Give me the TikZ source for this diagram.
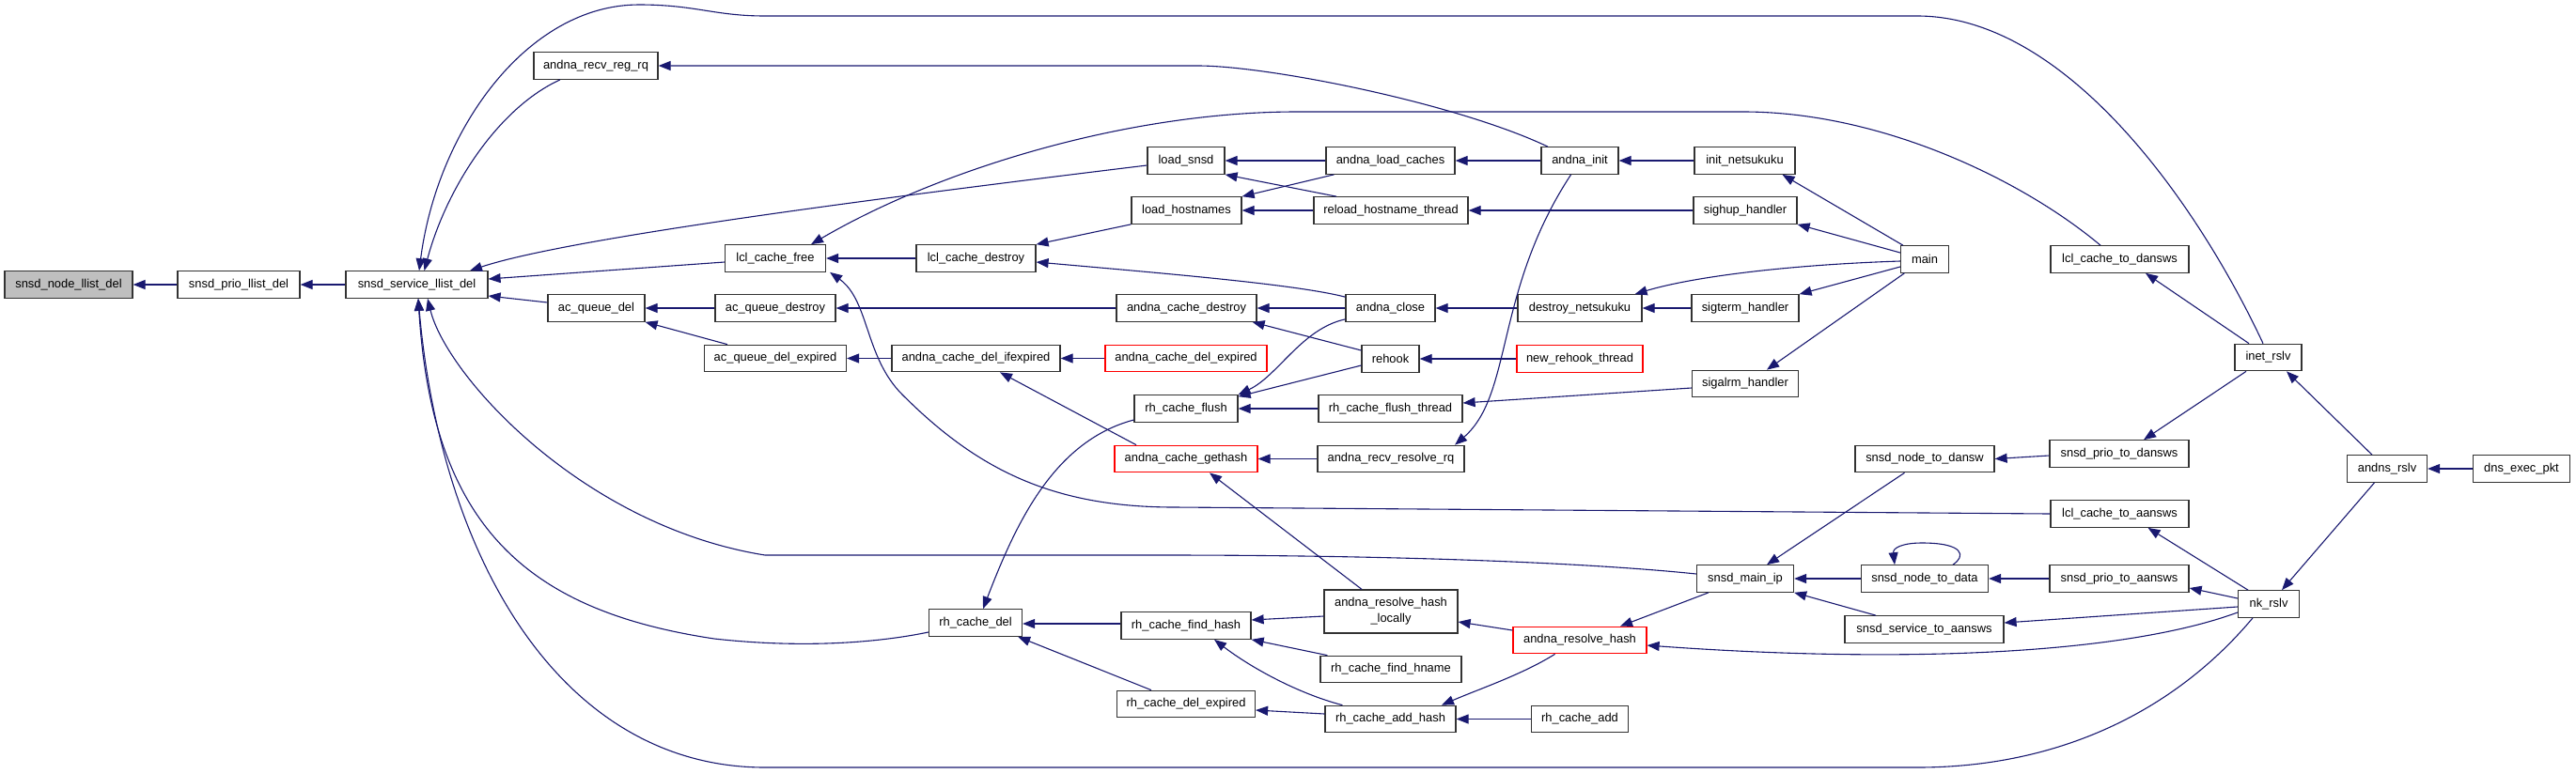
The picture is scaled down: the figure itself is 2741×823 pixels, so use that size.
\documentclass[tikz,border=0pt]{standalone}
\usepackage{fontspec}
\setmainfont{Liberation Sans}
\usetikzlibrary{arrows.meta}
\definecolor{edgeblue}{HTML}{191970}
\definecolor{rootgray}{HTML}{BFBFBF}
\begin{document}
\begin{tikzpicture}[x=1pt,y=-1pt,
  fnbox/.style={draw=black!80, line width=1.2pt, fill=white, rectangle, minimum height=28.5pt, inner sep=0pt, font=\fontsize{12.9}{17}\selectfont},
  redbox/.style={fnbox, draw=red},
  rootbox/.style={fnbox, fill=rootgray},
  link/.style={draw=edgeblue, line width=1.1pt, {Triangle[length=13pt,width=10pt]}-}]
\useasboundingbox (0,0) rectangle (2741,823);
% nodes
\node[rootbox, minimum width=136pt] (n1) at (73,303) {snsd\_node\_llist\_del};
\node[fnbox, minimum width=130pt] (n2) at (254,303) {snsd\_prio\_llist\_del};
\node[fnbox, minimum width=151pt] (n3) at (443.5,303) {snsd\_service\_llist\_del};
\node[fnbox, minimum width=132pt] (recvreg) at (634,70) {andna\_recv\_reg\_rq};
\node[fnbox, minimum width=103pt] (acqdel) at (634.5,328) {ac\_queue\_del};
\node[fnbox, minimum width=82pt] (loadsnsd) at (1262,171) {load\_snsd};
\node[fnbox, minimum width=117pt] (loadhost) at (1262.5,224) {load\_hostnames};
\node[fnbox, minimum width=107pt] (lclfree) at (825,275) {lcl\_cache\_free};
\node[fnbox, minimum width=127pt] (lcldestroy) at (1038.5,275) {lcl\_cache\_destroy};
\node[fnbox, minimum width=128pt] (acqdestroy) at (825,328) {ac\_queue\_destroy};
\node[fnbox, minimum width=149pt] (acdestroy) at (1262.5,328) {andna\_cache\_destroy};
\node[fnbox, minimum width=151pt] (acqdelexp) at (825,381.5) {ac\_queue\_del\_expired};
\node[fnbox, minimum width=179pt] (ifexp) at (1038.5,381.5) {andna\_cache\_del\_ifexpired};
\node[redbox, minimum width=172pt] (delexp) at (1262,381.5) {andna\_cache\_del\_expired};
\node[fnbox, minimum width=110pt] (rhflush) at (1262,435) {rh\_cache\_flush};
\node[redbox, minimum width=152pt] (gethash) at (1262,488.5) {andna\_cache\_gethash};
\node[fnbox, minimum width=99pt] (rhdel) at (1038,663) {rh\_cache\_del};
\node[fnbox, minimum width=138pt] (findhash) at (1262,666) {rh\_cache\_find\_hash};
\node[fnbox, minimum width=147pt] (rhdelexp) at (1262,749.5) {rh\_cache\_del\_expired};
\node[fnbox, minimum width=137pt] (loadcaches) at (1479.5,171) {andna\_load\_caches};
\node[fnbox, minimum width=82pt] (andnainit) at (1681,171) {andna\_init};
\node[fnbox, minimum width=107pt] (initnk) at (1856.5,171) {init\_netsukuku};
\node[fnbox, minimum width=164pt] (reloadhost) at (1480,224) {reload\_hostname\_thread};
\node[fnbox, minimum width=110pt] (sighup) at (1857,224) {sighup\_handler};
\node[fnbox, minimum width=51pt] (main) at (2048,276) {main};
\node[fnbox, minimum width=95pt] (andnaclose) at (1479.5,328) {andna\_close};
\node[fnbox, minimum width=132pt] (destroynk) at (1681,328) {destroy\_netsukuku};
\node[fnbox, minimum width=114pt] (sigterm) at (1857,328) {sigterm\_handler};
\node[fnbox, minimum width=61pt] (rehook) at (1479.5,382) {rehook};
\node[redbox, minimum width=134pt] (newrehook) at (1681,382) {new\_rehook\_thread};
\node[fnbox, minimum width=113pt] (sigalrm) at (1857,408.5) {sigalrm\_handler};
\node[fnbox, minimum width=153pt] (flushthread) at (1479.5,435) {rh\_cache\_flush\_thread};
\node[fnbox, minimum width=156pt] (recvresolve) at (1480,488.5) {andna\_recv\_resolve\_rq};
\node[fnbox, minimum width=148pt] (nodetodansw) at (2048,488.5) {snsd\_node\_to\_dansw};
\node[fnbox, minimum width=103pt] (mainip) at (1857,616) {snsd\_main\_ip};
\node[fnbox, minimum width=135pt] (nodetodata) at (2048,616) {snsd\_node\_to\_data};
\node[fnbox, minimum width=169pt] (servicetoaansws) at (2047.5,670) {snsd\_service\_to\_aansws};
\node[fnbox, minimum width=142pt, minimum height=46pt, align=center] (locally) at (1480,651) {andna\_resolve\_hash\\\_locally};
\node[redbox, minimum width=142pt] (resolvehash) at (1681,681.5) {andna\_resolve\_hash};
\node[fnbox, minimum width=150pt] (findhname) at (1480,712.5) {rh\_cache\_find\_hname};
\node[fnbox, minimum width=139pt] (addhash) at (1479.5,765.5) {rh\_cache\_add\_hash};
\node[fnbox, minimum width=103pt] (rhadd) at (1681,765.5) {rh\_cache\_add};
\node[fnbox, minimum width=147pt] (lcltodansws) at (2255.5,276) {lcl\_cache\_to\_dansws};
\node[fnbox, minimum width=71pt] (inetrslv) at (2413.5,380.5) {inet\_rslv};
\node[fnbox, minimum width=148pt] (priotodansws) at (2255,483) {snsd\_prio\_to\_dansws};
\node[fnbox, minimum width=85pt] (andnsrslv) at (2540,499) {andns\_rslv};
\node[fnbox, minimum width=103pt] (dnsexec) at (2683,499) {dns\_exec\_pkt};
\node[fnbox, minimum width=147pt] (lcltoaansws) at (2255.5,547) {lcl\_cache\_to\_aansws};
\node[fnbox, minimum width=148pt] (priotoaansws) at (2255,616) {snsd\_prio\_to\_aansws};
\node[fnbox, minimum width=65pt] (nkrslv) at (2414,643) {nk\_rslv};
% edges
\draw[link] (n1.east) -- (n2.west);
\draw[link] (n2.east) -- (n3.west);
\draw[link] ([xshift=8pt]n3.north) .. controls (475,200) and (530,115) .. ([xshift=-38pt]recvreg.south);
\draw[link] ([xshift=2.5pt]n3.north) .. controls (465,140) and (560,5) .. (680,5) .. controls (740,5) and (760,17) .. (814,17) -- (2040,17) .. controls (2200,17) and (2340,220) .. ([xshift=-5.5pt]inetrslv.north);
\draw[link] ([xshift=56.5pt]n3.north) .. controls (600,255) and (900,215) .. ([yshift=-5pt]loadsnsd.west);
\draw[link] ([yshift=6pt]n3.east) -- ([yshift=-4pt]lclfree.west);
\draw[link] ([yshift=-12pt]n3.east) -- ([yshift=6pt]acqdel.west);
\draw[link] (recvreg.east) -- ++(574,0) .. controls (1350,70) and (1550,110) .. ([xshift=-34pt]andnainit.north);
\draw[link] (loadsnsd.east) -- (loadcaches.west);
\draw[link] (loadsnsd.south east) -- ([xshift=-58pt]reloadhost.north);
\draw[link] (loadhost.north east) -- ([xshift=9pt]loadcaches.south west);
\draw[link] (loadhost.east) -- (reloadhost.west);
\draw[link] (loadcaches.east) -- (andnainit.west);
\draw[link] (andnainit.east) -- (initnk.west);
\draw[link] ([xshift=40pt]initnk.south) -- ([xshift=3pt]main.north west);
\draw[link] ([xshift=38pt]lclfree.north) .. controls (1000,180) and (1200,119) .. (1380,119) -- (1855,119) .. controls (2000,119) and (2150,190) .. ([xshift=-20.5pt]lcltodansws.north);
\draw[link] (lclfree.east) -- (lcldestroy.west);
\draw[link] ([xshift=4pt]lclfree.south east) .. controls (925,320) and (920,380) .. (960,420) .. controls (1040,500) and (1120,540) .. (1250,540) -- (lcltoaansws.west);
\draw[link] (lcldestroy.north east) -- (loadhost.south west);
\draw[link] ([yshift=-4pt]lcldestroy.east) .. controls (1250,292) and (1380,303) .. ([yshift=-3pt]andnaclose.north west);
\draw[link] (acqdel.east) -- (acqdestroy.west);
\draw[link] (acqdel.south east) -- ([xshift=-51pt]acqdelexp.north);
\draw[link] (acqdestroy.east) -- (acdestroy.west);
\draw[link] (acdestroy.east) -- (andnaclose.west);
\draw[link] ([xshift=-5pt]acdestroy.south east) -- ([yshift=9pt]rehook.west);
\draw[link] (rhflush.north east) .. controls (1360,400) and (1385,350) .. ([yshift=3pt]andnaclose.south west);
\draw[link] ([yshift=-2pt]rhflush.north east) -- ([yshift=-7pt]rehook.west);
\draw[link] (rhflush.east) -- (flushthread.west);
\draw[link] ([yshift=6pt]flushthread.east) -- ([yshift=-4.5pt]sigalrm.west);
\draw[link] ([xshift=8pt]rhdel.north) .. controls (1080,560) and (1120,470) .. ([yshift=-12pt]rhflush.west);
\draw[link] (ifexp.east) -- (delexp.west);
\draw[link] (acqdelexp.east) -- (ifexp.west);
\draw[link] ([xshift=25.5pt]ifexp.south) -- ([xshift=-53pt]gethash.north);
\draw[link] (gethash.east) -- (recvresolve.west);
\draw[link] ([xshift=25pt]gethash.south) -- ([xshift=-31pt]locally.north);
\draw[link] ([yshift=6pt]findhash.east) -- ([yshift=-5pt]locally.west);
\draw[link] (findhash.south east) -- ([xshift=8pt]findhname.north west);
\draw[link] ([xshift=30pt]findhash.south) .. controls (1330,710) and (1380,738) .. ([xshift=19pt]addhash.north west);
\draw[link] ([yshift=-1pt]rhdel.east) -- ([yshift=2pt]findhash.west);
\draw[link] ([xshift=-5pt]rhdel.south east) -- ([xshift=-37pt]rhdelexp.north);
\draw[link] ([yshift=-6.5pt]rhdelexp.east) -- ([yshift=5.5pt]addhash.west);
\draw[link] ([yshift=-11pt]locally.east) -- ([yshift=10.5pt]resolvehash.west);
\draw[link] ([xshift=43pt]resolvehash.north) -- ([xshift=-39pt]mainip.south);
\draw[link] ([xshift=54.5pt]addhash.north) .. controls (1575,733) and (1620,718) .. ([xshift=-26.5pt]resolvehash.south);
\draw[link] (addhash.east) -- (rhadd.west);
\draw[link] ([yshift=-5.5pt]resolvehash.east) .. controls (2000,705) and (2250,700) .. ([yshift=-9pt]nkrslv.west);
\draw[link] ([xshift=23pt]mainip.north) -- ([xshift=-21.5pt]nodetodansw.south);
\draw[link] (mainip.east) -- (nodetodata.west);
\draw[link] (mainip.south east) -- ([xshift=-51.5pt]servicetoaansws.north);
\draw[link] ([xshift=-32pt]nodetodata.north) .. controls (2014,583) and (2025,578) .. (2045,578) .. controls (2090,578) and (2092,592) .. ([xshift=30pt]nodetodata.north);
\draw[link] (nodetodansw.east) -- ([yshift=-2pt]priotodansws.west);
\draw[link] (nodetodata.east) -- (priotoaansws.west);
\draw[link] ([xshift=26pt]priotodansws.north) -- ([xshift=-23.5pt]inetrslv.south);
\draw[link] ([xshift=19.5pt]inetrslv.south) -- ([xshift=-16pt]andnsrslv.north);
\draw[link] (andnsrslv.east) -- (dnsexec.west);
\draw[link] ([xshift=14pt]nkrslv.north) -- ([xshift=-13.5pt]andnsrslv.south);
\draw[link] ([xshift=30pt]lcltoaansws.south) -- ([xshift=-22pt]nkrslv.north);
\draw[link] ([yshift=-10pt]priotoaansws.east) -- ([yshift=6pt]nkrslv.west);
\draw[link] ([yshift=7pt]servicetoaansws.east) -- ([yshift=-3pt]nkrslv.west);
\draw[link] ([xshift=27.5pt]lcltodansws.south) -- ([xshift=-20.5pt]inetrslv.north);
\draw[link] ([xshift=11.5pt]n3.south) .. controls (475,400) and (620,560) .. (814,591) -- (1238,591) .. controls (1500,591) and (1700,600) .. ([yshift=5pt]mainip.west);
\draw[link] ([xshift=1.5pt]n3.south) .. controls (460,560) and (560,650) .. (760,680) .. controls (850,690) and (930,685) .. ([yshift=-10pt]rhdel.west);
\draw[link] ([xshift=1.5pt]n3.south) .. controls (470,600) and (600,817) .. (814,817) -- (2040,817) .. controls (2200,817) and (2320,750) .. ([xshift=-17pt]nkrslv.south);
\draw[link] (sighup.south east) -- ([yshift=7pt]main.west);
\draw[link] ([xshift=-8pt]destroynk.north east) .. controls (1800,295) and (1900,282) .. ([yshift=-2pt]main.west);
\draw[link] (sigterm.north east) -- ([yshift=-8pt]main.west);
\draw[link] ([xshift=23pt]sigalrm.north) -- ([xshift=4.5pt]main.south west);
\draw[link] (andnaclose.east) -- (destroynk.west);
\draw[link] (destroynk.east) -- (sigterm.west);
\draw[link] (reloadhost.east) -- (sighup.west);
\draw[link] (rehook.east) -- (newrehook.west);
\draw[link] ([xshift=-10.5pt]recvresolve.north east) .. controls (1610,420) and (1590,310) .. ([xshift=-9.4pt]andnainit.south);
\end{tikzpicture}
\end{document}
